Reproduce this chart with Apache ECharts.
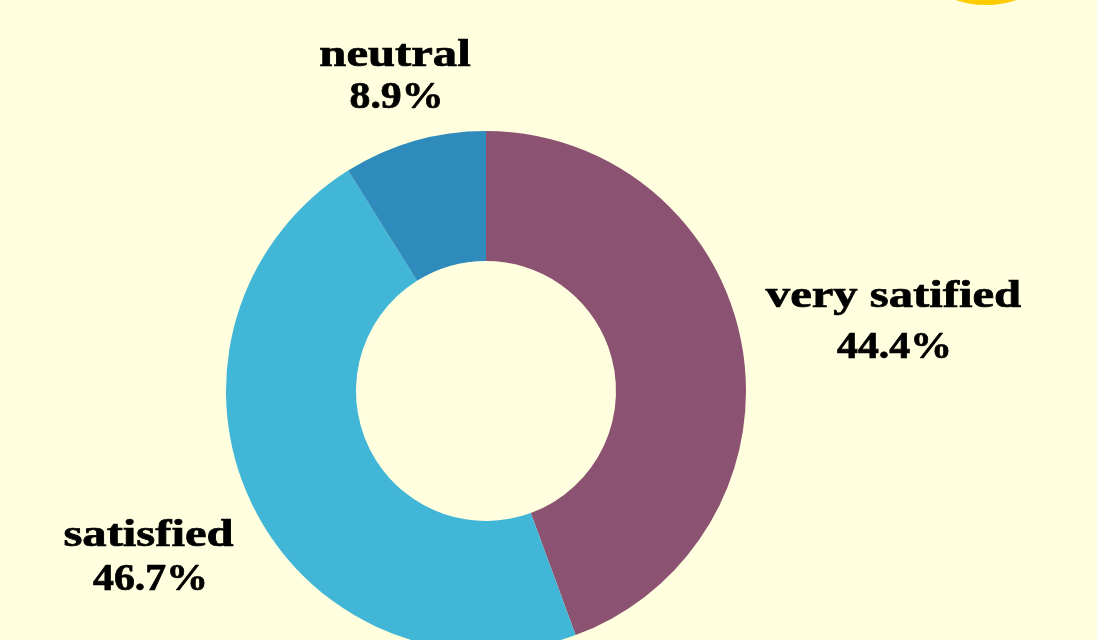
<!DOCTYPE html>
<html><head><meta charset="utf-8">
<style>html,body{margin:0;padding:0;background:#ffffe0}#c{width:1097px;height:640px}</style>
<script src="https://cdn.jsdelivr.net/npm/echarts@6/dist/echarts.min.js"></script>
</head><body><div id="c"></div>
<script>
const categories = ['very satified', 'satisfied', 'neutral'];
const shares = [44.4, 46.7, 8.9];
const sliceColors = ['#8b5371', '#41b6d7', '#2e8bbb'];
const nameCentersX = [893.5, 148.5, 395];
const valueCentersX = [894.5, 150.5, 396.5];
const nameMiddles = [297, 536, 56];
const valueMiddles = [348, 580, 98];
const accentValues = [1];

const chart = echarts.init(document.getElementById('c'), null, {renderer: 'canvas'});

// Wide, heavy serif captions: stretched horizontally around the centre and thickened with a stroke.
function caption(text, x, middle, stretch) {
  return {
    type: 'text', x, y: middle, scaleX: stretch, scaleY: 1, silent: true,
    style: {
      text, fill: '#000', stroke: '#000', lineWidth: 0.7,
      fontFamily: 'Liberation Serif', fontWeight: 'bold', fontSize: 38,
      align: 'center', verticalAlign: 'middle'
    }
  };
}

chart.setOption({
  backgroundColor: '#ffffe0',
  animation: false,
  series: [
    {
      type: 'pie', center: [986, -91], radius: [0, 96], silent: true,
      label: {show: false}, labelLine: {show: false},
      data: accentValues.map(v => ({value: v, itemStyle: {color: '#ffcc00'}}))
    },
    {
      type: 'pie', center: [486, 391], radius: [130, 260], startAngle: 90, clockwise: true,
      label: {show: false}, labelLine: {show: false},
      data: categories.map((name, i) => ({
        name, value: shares[i], itemStyle: {color: sliceColors[i]}
      }))
    }
  ],
  graphic: categories.flatMap((name, i) => [
    caption(name, nameCentersX[i], nameMiddles[i], 1.28),
    caption(shares[i].toFixed(1) + '%', valueCentersX[i], valueMiddles[i], 1.1)
  ])
});
</script></body></html>
